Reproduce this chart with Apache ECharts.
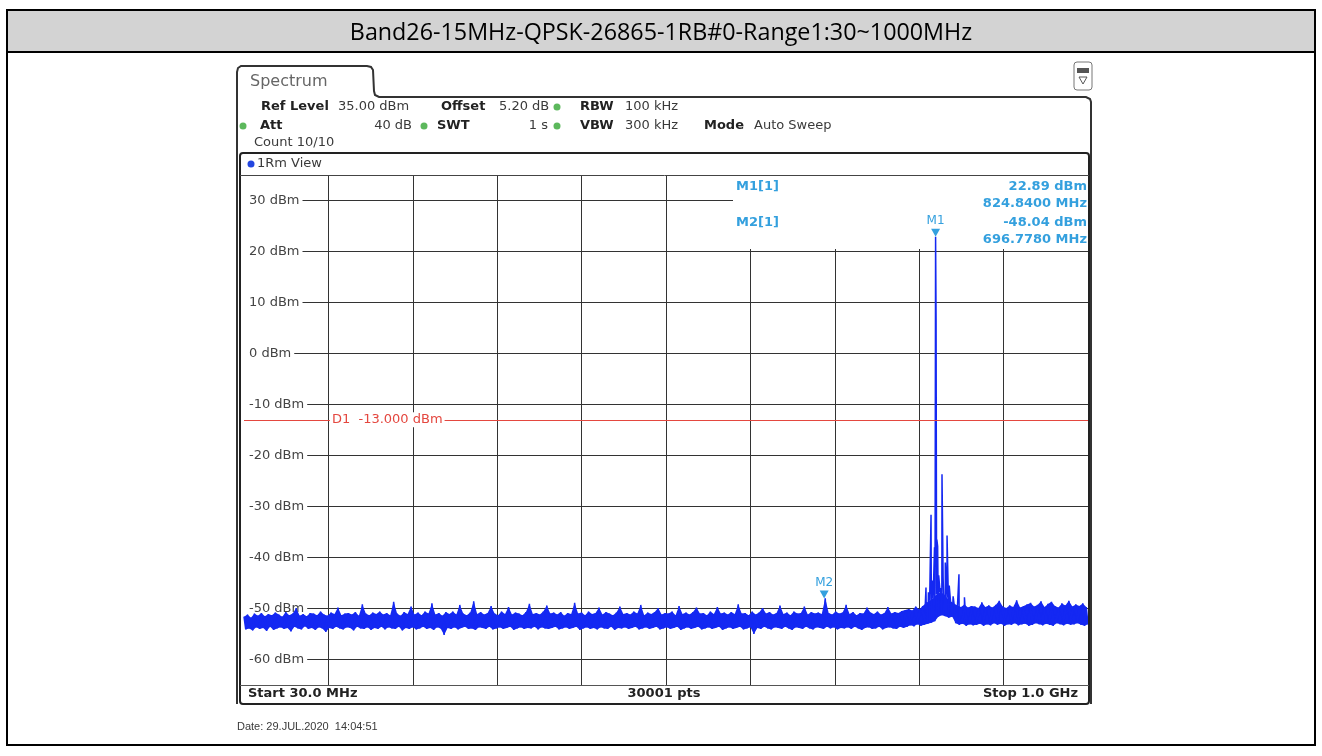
<!DOCTYPE html>
<html><head><meta charset="utf-8">
<script src="https://cdn.jsdelivr.net/npm/echarts@6/dist/echarts.min.js"></script>
<style>html,body{margin:0;padding:0;background:#fff}#c{width:1322px;height:756px}</style>
</head><body><div id="c"></div>
<script>
const chartTitle = 'Band26-15MHz-QPSK-26865-1RB#0-Range1:30~1000MHz';
const startMHz = 30, stopMHz = 1000, floorStepMHz = 2;
// trace: noise floor (alternating upper/lower edge of the band), 30..1000 MHz
const floorLevels = [
-51.6,-54.1,-51.2,-53.9,-51.8,-54.3,-51.0,-53.7,-51.4,-54.0,-50.9,-53.8,-51.5,-54.4,-51.1,-53.6,-51.3,-54.2,-50.8,-53.9,
-51.2,-53.7,-51.6,-54.0,-50.7,-53.8,-51.3,-54.5,-51.0,-53.6,-49.9,-53.9,-51.4,-54.1,-51.1,-53.5,-51.5,-54.0,-50.9,-53.8,
-51.0,-54.2,-51.3,-53.7,-50.6,-53.9,-51.2,-54.6,-51.4,-53.8,-50.8,-54.0,-51.1,-53.6,-49.8,-53.9,-51.3,-54.1,-51.0,-53.7,
-50.9,-53.8,-51.2,-54.3,-50.7,-53.6,-51.4,-53.9,-49.2,-54.0,-51.0,-53.7,-51.3,-54.2,-50.8,-53.8,-51.1,-54.0,-50.6,-53.6,
-51.2,-54.1,-50.9,-53.7,-51.3,-53.9,-48.7,-54.0,-51.0,-53.6,-51.4,-54.3,-50.7,-53.8,-51.1,-54.0,-49.6,-53.7,-51.2,-54.1,
-50.8,-53.9,-51.3,-53.6,-50.6,-54.0,-51.0,-53.8,-49.0,-54.2,-51.2,-53.7,-50.9,-53.9,-51.4,-55.2,-50.7,-53.8,-51.1,-54.0,
-50.6,-53.7,-51.2,-54.1,-49.3,-53.8,-51.0,-53.6,-51.3,-54.0,-50.8,-53.9,-48.6,-54.2,-51.1,-53.7,-50.7,-53.8,-51.2,-54.0,
-50.9,-53.6,-49.5,-54.1,-51.0,-53.9,-51.3,-53.7,-50.6,-54.0,-51.1,-53.8,-49.7,-53.6,-51.2,-54.2,-50.8,-53.9,-51.0,-53.7,
-51.3,-54.0,-50.7,-53.8,-49.1,-53.9,-51.1,-53.6,-50.9,-54.1,-51.2,-53.7,-50.6,-53.9,-49.4,-54.0,-51.0,-53.8,-50.8,-53.6,
-51.2,-54.1,-50.7,-53.9,-51.4,-53.7,-50.9,-54.0,-51.1,-53.8,-48.9,-53.6,-51.0,-54.2,-50.8,-53.9,-51.3,-53.7,-50.6,-54.0,
-51.1,-53.8,-50.9,-54.1,-49.8,-53.7,-51.2,-53.9,-50.7,-54.0,-51.0,-53.6,-51.3,-54.2,-50.8,-53.8,-49.6,-53.9,-51.1,-53.7,
-50.9,-54.0,-51.2,-53.8,-50.6,-53.6,-51.0,-54.1,-49.3,-53.9,-51.3,-53.7,-50.8,-54.0,-51.1,-53.8,-50.7,-53.6,-49.9,-54.1,
-51.2,-53.9,-50.9,-53.7,-51.0,-54.0,-50.6,-53.8,-51.3,-53.6,-49.5,-54.2,-51.1,-53.9,-50.8,-53.7,-51.2,-54.0,-50.7,-53.8,
-49.8,-53.6,-51.0,-54.1,-50.9,-53.9,-51.3,-53.7,-50.6,-54.0,-51.1,-53.8,-49.7,-53.6,-51.0,-54.2,-50.8,-53.9,-51.2,-53.7,
-50.7,-54.0,-51.1,-53.8,-49.2,-53.6,-51.0,-54.1,-50.9,-53.9,-51.3,-53.7,-50.6,-55.0,-51.2,-53.8,-50.8,-54.0,-49.9,-53.6,
-51.0,-53.9,-50.7,-54.1,-51.2,-53.7,-50.9,-53.8,-49.4,-54.0,-51.1,-53.6,-50.8,-53.9,-51.3,-54.2,-50.6,-53.7,-51.0,-53.8,
-50.9,-54.0,-49.6,-53.6,-51.2,-53.9,-50.7,-54.1,-51.0,-53.7,-50.8,-53.8,-51.1,-54.0,-48.0,-53.6,-50.9,-53.9,-51.2,-53.7,
-50.6,-54.1,-51.0,-53.8,-50.8,-53.9,-49.3,-53.7,-51.1,-54.0,-50.7,-53.6,-51.3,-53.9,-50.9,-54.2,-51.0,-53.8,-49.8,-53.7,
-50.8,-54.0,-51.1,-53.9,-50.6,-53.6,-51.2,-54.1,-50.9,-53.8,-49.7,-53.7,-51.0,-53.9,-50.7,-54.0,-50.9,-53.6,-50.5,-53.8,
-50.3,-53.6,-50.1,-53.3,-50.4,-53.5,-49.6,-53.1,-50.2,-53.4,-49.5,-53.2,-48.9,-53.0,-48.5,-52.8,-48.0,-52.5,-47.2,-51.6,
-46.8,-51.3,-47.1,-51.5,-47.9,-51.8,-48.6,-51.6,-49.0,-52.9,-49.4,-53.2,-49.7,-53.0,-49.2,-53.4,-49.8,-53.1,-49.5,-53.3,
-49.6,-53.2,-49.9,-53.0,-48.8,-53.4,-49.7,-53.1,-49.4,-53.3,-49.8,-52.9,-49.3,-53.2,-48.5,-53.0,-49.6,-53.4,-49.9,-53.1,
-49.4,-53.2,-49.7,-52.9,-48.4,-53.3,-49.8,-53.1,-49.5,-53.0,-49.2,-53.4,-48.9,-53.2,-49.6,-52.9,-49.3,-53.1,-48.6,-53.3,
-49.7,-53.0,-49.1,-53.2,-48.7,-53.4,-49.5,-52.9,-49.8,-53.1,-49.0,-53.3,-49.4,-53.0,-48.5,-53.2,-49.6,-53.1,-49.2,-52.9,
-49.5,-53.2,-49.0,-53.4,-49.7,-53.1
];
// discrete spurs / carrier: [MHz, dBm]
const spikes = [
[813.8,-45.9],[816.6,-46.8],[819.6,-31.6],[821.2,-44.5],[823.6,-38.0],[824.3,-35.0],
[824.84,22.89],[825.4,6.7],[825.9,6.5],[826.3,-36.5],[827.2,-37.8],[828.4,-43.5],
[830.5,-46.0],[832.2,-23.7],[833.5,-44.0],[836.0,-41.0],[838.0,-35.7],[840.5,-45.5],
[845.0,-47.6],[851.7,-43.3],[858.0,-47.8]
];
const yTickValues = [30,20,10,0,-10,-20,-30,-40,-50,-60];
const yTickLabels = ['30 dBm','20 dBm','10 dBm','0 dBm','-10 dBm','-20 dBm','-30 dBm','-40 dBm','-50 dBm','-60 dBm'];
const markerNames = ['M1','M2'];
const markerFreqs = [824.84, 696.778];
const markerLevels = [22.89, -48.04];
const d1Level = -13.0;
const xDivisions = 10;

const trace = floorLevels.map((v,i)=>[startMHz + i*floorStepMHz, v]).concat(spikes).sort((a,b)=>a[0]-b[0]);
const labelMap = {}; yTickValues.forEach((v,i)=>labelMap[v]=yTickLabels[i]);

const F = 'DejaVu Sans';
const BLUE_M = '#34a0de';
const TRACE = '#1428f2';
function txt(x,y,s,st){ return {type:'text', x:x, y:y, z:20, style:Object.assign({text:s, fill:'#3a3a3a', font:'13px "'+F+'"', textVerticalAlign:'middle'}, st||{})}; }
function bold(x,y,s,st){ return txt(x,y,s,Object.assign({font:'bold 13px "'+F+'"', fill:'#222'}, st||{})); }
function dot(x,y,c){ return {type:'circle', z:20, shape:{cx:x, cy:y, r:3.5}, style:{fill:c||'#5cb85c'}}; }

const markerTexts = [];
markerNames.forEach((n,i)=>{
  const y0 = 187 + i*36;
  const st = {fill:BLUE_M, font:'bold 13px "'+F+'"'};
  markerTexts.push(txt(736, y0, n+'[1]', st));
  markerTexts.push(txt(1087, y0, markerLevels[i].toFixed(2)+' dBm', Object.assign({textAlign:'right'}, st)));
  markerTexts.push(txt(1087, y0+17, markerFreqs[i].toFixed(4)+' MHz', Object.assign({textAlign:'right'}, st)));
});

const graphics = [
  {type:'rect', z:5, shape:{x:7,y:10,width:1308,height:42}, style:{fill:'#d3d3d3', stroke:'#000', lineWidth:2}},
  {type:'rect', z:5, shape:{x:7,y:10,width:1308,height:735}, style:{fill:'none', stroke:'#000', lineWidth:2}},
  {type:'text', z:20, x:661, y:33, style:{text:chartTitle, font:'23.3px "Open Sans"', fill:'#000', textAlign:'center', textVerticalAlign:'middle'}},
  {type:'polyline', z:5, shape:{points:[[237,704],[237,72],[238,68],[241,66],[367,66],[371,67],[373,70],[374,91],[375,95],[379,97],[1086,97],[1090,99],[1091,102],[1091,704]]}, style:{fill:'none', stroke:'#333', lineWidth:2}},
  {type:'text', z:20, x:250, y:82, style:{text:'Spectrum', font:'16px "'+F+'"', fill:'#666', textVerticalAlign:'middle'}},
  {type:'rect', z:5, shape:{x:1074,y:62,width:18,height:28,r:3}, style:{fill:'#fff', stroke:'#777', lineWidth:1}},
  {type:'rect', z:6, shape:{x:1077,y:68,width:12,height:5}, style:{fill:'#555'}},
  {type:'polygon', z:6, shape:{points:[[1079,77],[1087,77],[1083,84]]}, style:{fill:'none', stroke:'#555', lineWidth:1}},
  bold(261,107,'Ref Level'), txt(338,107,'35.00 dBm'), bold(441,107,'Offset'), txt(499,107,'5.20 dB'), dot(557,107), bold(580,107,'RBW'), txt(625,107,'100 kHz'),
  dot(243,126), bold(260,126,'Att'), txt(412,126,'40 dB',{textAlign:'right'}),
  dot(424,126), bold(437,126,'SWT'), txt(548,126,'1 s',{textAlign:'right'}),
  dot(557,126), bold(580,126,'VBW'), txt(625,126,'300 kHz'), bold(704,126,'Mode'), txt(754,126,'Auto Sweep'),
  txt(254,143,'Count 10/10'),
  {type:'rect', z:5, shape:{x:240,y:153,width:849,height:551,r:3}, style:{fill:'none', stroke:'#222', lineWidth:2}},
  dot(251,164,'#2346e0'), txt(257,164,'1Rm View'),
  {type:'line', z:5, shape:{x1:240,y1:175.5,x2:1089,y2:175.5}, style:{stroke:'#444', lineWidth:1}},
  {type:'line', z:5, shape:{x1:240,y1:685.5,x2:1089,y2:685.5}, style:{stroke:'#555', lineWidth:1}},
  bold(248,694,'Start 30.0 MHz'), bold(664,694,'30001 pts',{textAlign:'center'}), bold(1078,694,'Stop 1.0 GHz',{textAlign:'right'}),
  {type:'rect', z:1, shape:{x:733,y:176,width:355,height:73}, style:{fill:'#fff'}},
  txt(237,727,'Date: 29.JUL.2020  14:04:51',{font:'11px "Liberation Sans"'})
].concat(markerTexts);

const chart = echarts.init(document.getElementById('c'), null, {renderer:'canvas'});
chart.setOption({
  animation:false,
  backgroundColor:'#fff',
  grid:{left:244, top:175, width:844, height:510, containLabel:false},
  xAxis:[
    {type:'value', min:startMHz, max:stopMHz, show:false},
    {type:'value', min:0, max:xDivisions, interval:1, position:'bottom', axisLine:{show:false}, axisTick:{show:false}, axisLabel:{show:false},
     splitLine:{show:true, showMinLine:false, showMaxLine:false, lineStyle:{color:'#333', width:1}}}
  ],
  yAxis:{type:'value', min:-65, max:35, interval:5, axisLine:{show:false}, axisTick:{show:false},
    splitLine:{show:true, lineStyle:{color:['rgba(0,0,0,0)','#333'], width:1}},
    axisLabel:{inside:true, margin:0, color:'#444', fontSize:13, fontFamily:F, backgroundColor:'#fff', padding:[1,3,1,5],
      formatter:v=>labelMap[v]||''}},
  graphic:{elements:graphics},
  series:[
    // solid body of the noise band between the upper and lower edges read above
    {type:'custom', xAxisIndex:0, yAxisIndex:0, data:[[startMHz, floorLevels[0]]], z:2, silent:true,
     renderItem:(params, api)=>{
       const up=[], lo=[];
       floorLevels.forEach((v,i)=>{ const p = api.coord([startMHz + i*floorStepMHz, v]); (i%2 ? lo : up).push(p); });
       return {type:'polygon', shape:{points: up.concat(lo.reverse())}, style:{fill:TRACE}};
     }},
    {type:'line', xAxisIndex:0, yAxisIndex:0, data:trace, showSymbol:false, symbol:'none', z:3,
     lineStyle:{color:TRACE, width:1.5, join:'bevel'}, silent:true,
     markPoint:{symbol:'triangle', symbolRotate:180, symbolSize:[9,8], symbolOffset:[0,-4], itemStyle:{color:BLUE_M},
       label:{show:true, position:'top', distance:2, color:BLUE_M, fontSize:12, fontFamily:F, formatter:p=>p.name},
       data:markerNames.map((n,i)=>({name:n, coord:[markerFreqs[i], markerLevels[i]]}))}},
    {type:'line', xAxisIndex:0, yAxisIndex:0, data:[], z:2, silent:true,
     markLine:{silent:true, symbol:['none','none'], lineStyle:{color:'#e4473f', width:1, type:'solid'}, label:{show:false},
       data:[{yAxis:d1Level}]},
     markPoint:{symbol:'rect', symbolSize:1, itemStyle:{color:'rgba(0,0,0,0)'},
       label:{show:true, position:'right', distance:1, color:'#e4473f', fontSize:13, fontFamily:F, backgroundColor:'#fff', padding:[1,2,1,2],
         formatter:'D1  ' + d1Level.toFixed(3) + ' dBm'},
       data:[{coord:[startMHz + (stopMHz-startMHz)/xDivisions, d1Level]}]}}
  ]
});
</script></body></html>
